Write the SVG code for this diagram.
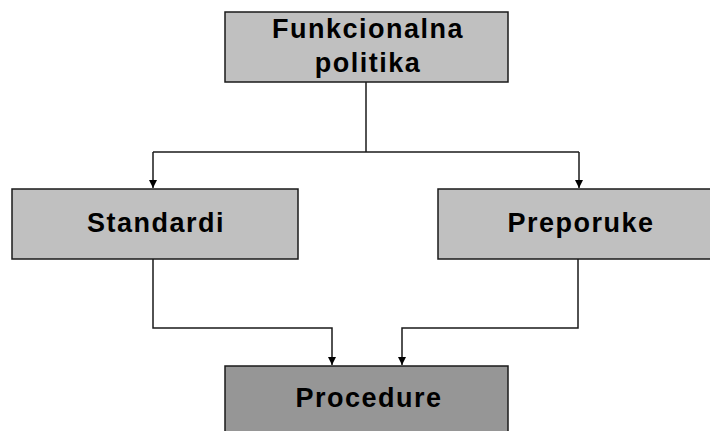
<svg xmlns="http://www.w3.org/2000/svg" width="710" height="431" viewBox="0 0 710 431">
<style>
.box{stroke:#1a1a1a;stroke-width:1.5}
.lt{fill:#c0c0c0}
.dk{fill:#969696}
.t{font-family:"Liberation Sans",Arial,sans-serif;font-weight:bold;font-size:27px;fill:#000;text-anchor:middle;letter-spacing:1.5px}
.c{fill:none;stroke:#1a1a1a;stroke-width:1.5}
</style>
<defs>
<marker id="ah" viewBox="0 0 8 10" refX="8" refY="5" markerWidth="8" markerHeight="10" markerUnits="userSpaceOnUse" orient="auto">
<path d="M0,1 L8,5 L0,9 z" fill="#000"/>
</marker>
</defs>
<rect width="710" height="431" fill="#fff"/>
<g id="connectors">
<path class="c" d="M366,82 V152"/>
<path class="c" d="M153,152 H579"/>
<path class="c" d="M153,152 V188" marker-end="url(#ah)"/>
<path class="c" d="M579,152 V188" marker-end="url(#ah)"/>
<path class="c" d="M153,259 V328 H332 V365" marker-end="url(#ah)"/>
<path class="c" d="M578,259 V328 H402 V365" marker-end="url(#ah)"/>
</g>
<g id="n1">
<rect class="box lt" x="225" y="12" width="283" height="70"/>
<text class="t" x="368" y="38">Funkcionalna</text>
<text class="t" x="368" y="72">politika</text>
</g>
<g id="n2">
<rect class="box lt" x="12" y="189" width="286" height="70"/>
<text class="t" x="156" y="232">Standardi</text>
</g>
<g id="n3">
<rect class="box lt" x="438" y="189" width="290" height="70"/>
<text class="t" x="581" y="232">Preporuke</text>
</g>
<g id="n4">
<rect class="box dk" x="225" y="366" width="283" height="80"/>
<text class="t" x="369" y="407">Procedure</text>
</g>
</svg>
